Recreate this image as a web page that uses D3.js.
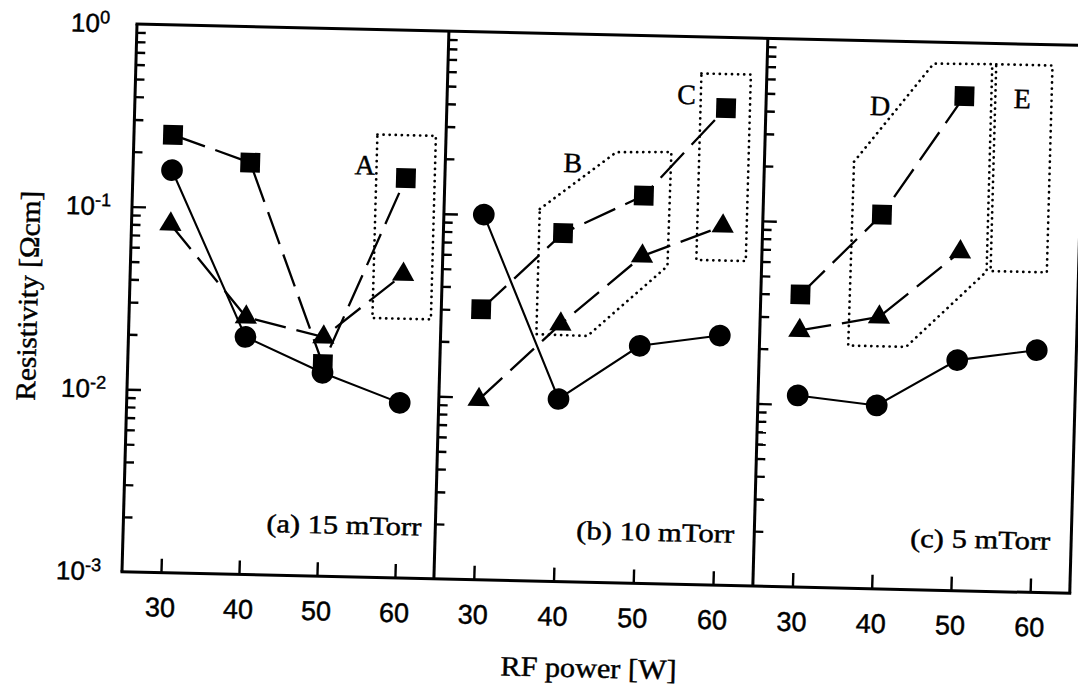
<!DOCTYPE html>
<html><head><meta charset="utf-8">
<script src="https://cdn.jsdelivr.net/npm/d3@7"></script>
<style>body{margin:0;background:#fff} text{stroke:#000;stroke-width:0.45px}</style>
</head><body>
<svg id="chart" width="1078" height="686"></svg>
<script>
// ---- data ----
const powers = [30, 40, 50, 60];
const xTickLabels = ["30", "40", "50", "60"];
const panelLabels = ["(a) 15 mTorr", "(b) 10 mTorr", "(c) 5 mTorr"];
const yTickValues = [1, 0.1, 0.01, 0.001];
const yTickExponents = ["0", "-1", "-2", "-3"];

// resistivity [Ohm cm] per panel, per RF power
const squareA   = [0.25, 0.18, 0.0145, 0.155];
const triangleA = [0.081, 0.0257, 0.0204, 0.046];
const circleA   = [0.16, 0.020, 0.013, 0.0091];

const squareB   = [0.0303, 0.081, 0.133, 0.41];
const triangleB = [0.0097, 0.0257, 0.062, 0.0925];
const circleB   = [0.10, 0.0100, 0.020, 0.0233];

const squareC   = [0.040, 0.112, 0.51, null];
const triangleC = [0.0254, 0.0308, 0.0716, null];
const circleC   = [0.0112, 0.0101, 0.0183, 0.0212];

// annotation regions (RF power, resistivity) per panel
const boxA = [[56.2, 0.266], [63.7, 0.266], [63.7, 0.0263], [56.2, 0.0263]];
const boxB = [[37.0, 0.109], [46.4, 0.228], [53.3, 0.232], [53.2, 0.0551], [43.4, 0.0223], [37.0, 0.0225]];
const boxC = [[56.8, 0.63], [63.0, 0.63], [63.0, 0.060], [56.8, 0.060]];
const boxD = [[36.3, 0.2165], [46.0, 0.762], [53.4, 0.77], [53.4, 0.0564], [43.5, 0.0213], [36.2, 0.0213]];
const boxE = [[53.9, 0.77], [61.0, 0.77], [61.0, 0.0567], [53.9, 0.0567]];
const boxLetters = [
  {panel: 0, text: "A", p: 54.7, r: 0.181},
  {panel: 1, text: "B", p: 41.0, r: 0.198},
  {panel: 1, text: "C", p: 55.0, r: 0.484},
  {panel: 2, text: "D", p: 39.4, r: 0.443},
  {panel: 2, text: "E", p: 57.3, r: 0.504}
];

// ---- layout ----
const W = 948, H = 548;
const panelRanges = [[0, 312], [312, 631], [631, 948]];
const seriesByPanel = [
  {square: squareA, triangle: triangleA, circle: circleA, boxes: [boxA]},
  {square: squareB, triangle: triangleB, circle: circleB, boxes: [boxB, boxC]},
  {square: squareC, triangle: triangleC, circle: circleC, boxes: [boxD, boxE]}
];
const panelLabelGap = [14, 20, 21];
const panelLabelLen = [155, 158, 140];

const svg = d3.select("#chart");
const a1 = 1.3 * Math.PI / 180, a2 = 1.57 * Math.PI / 180;
const g = svg.append("g")
  .attr("transform", `matrix(${Math.cos(a1)},${Math.sin(a1)},${-Math.sin(a2)},${Math.cos(a2)},137,24)`);

const y = d3.scaleLog().domain([1e-3, 1]).range([H, 0]);

const majors = [0.1, 0.01];
const minors = [];
[0.001, 0.01, 0.1].forEach(d => { for (let k = 2; k <= 9; k++) minors.push(d * k); });

const serif = "'Liberation Serif','Times New Roman',serif";
const sans = "'Liberation Sans',Arial,sans-serif";

const sqSym = d3.symbol(d3.symbolSquare, 390)();
const triSym = d3.symbol(d3.symbolTriangle, 215)();
const cirSym = d3.symbol(d3.symbolCircle, 370)();

panelRanges.forEach((rng, i) => {
  const x = d3.scaleLinear().domain([25, 65]).range(rng);
  const pg = g.append("g");
  const s = seriesByPanel[i];

  // y ticks on left boundary (pointing into panel)
  const axMaj = d3.axisRight(y).tickValues(majors).tickSize(14).tickFormat("");
  const axMin = d3.axisRight(y).tickValues(minors).tickSize(9).tickFormat("");
  [axMaj, axMin].forEach(ax => {
    const ag = pg.append("g").attr("transform", `translate(${rng[0]},0)`).call(ax);
    ag.select(".domain").remove();
    ag.selectAll("line").attr("stroke", "#000").attr("stroke-width", 2.4);
  });

  // x ticks pointing up from bottom
  const xa = pg.append("g").attr("transform", `translate(0,${H})`)
    .call(d3.axisTop(x).tickValues(powers).tickSize(14).tickFormat(""));
  xa.select(".domain").remove();
  xa.selectAll("line").attr("stroke", "#000").attr("stroke-width", 2.4);

  // x tick labels
  pg.selectAll("text.xt").data(powers).join("text")
    .attr("class", "xt")
    .attr("x", d => x(d)).attr("y", H + 44)
    .attr("text-anchor", "middle")
    .attr("font-family", sans).attr("font-size", 27)
    .text((d, j) => xTickLabels[j]);

  // dotted annotation boxes
  s.boxes.forEach(b => {
    pg.append("path")
      .attr("d", d3.line().x(d => x(d[0])).y(d => y(d[1])).curve(d3.curveLinearClosed)(b))
      .attr("fill", "none").attr("stroke", "#000").attr("stroke-width", 2.7)
      .attr("stroke-dasharray", "0.1,6").attr("stroke-linecap", "round");
  });

  const line = d3.line().defined(d => d[1] != null).x(d => x(d[0])).y(d => y(d[1]));
  const pts = arr => powers.map((p, j) => [p, arr[j]]);

  pg.append("path").attr("d", line(pts(s.square)))
    .attr("fill", "none").attr("stroke", "#000").attr("stroke-width", 2.3)
    .attr("stroke-dasharray", "34,11");
  pg.append("path").attr("d", line(pts(s.triangle)))
    .attr("fill", "none").attr("stroke", "#000").attr("stroke-width", 2.3)
    .attr("stroke-dasharray", "32,11");
  pg.append("path").attr("d", line(pts(s.circle)))
    .attr("fill", "none").attr("stroke", "#000").attr("stroke-width", 2.1);

  const drawMarks = (arr, sym) => {
    pg.selectAll(null).data(pts(arr).filter(d => d[1] != null)).join("path")
      .attr("d", sym).attr("fill", "#000")
      .attr("transform", d => `translate(${x(d[0])},${y(d[1])})`);
  };
  drawMarks(s.square, sqSym);
  drawMarks(s.triangle, triSym);
  drawMarks(s.circle, cirSym);

  // box letters
  boxLetters.filter(l => l.panel === i).forEach(l => {
    pg.append("text").attr("x", x(l.p)).attr("y", y(l.r)).attr("dy", "0.35em")
      .attr("text-anchor", "middle").attr("font-family", serif).attr("font-size", 28)
      .text(l.text);
  });

  // panel label
  pg.append("text")
    .attr("x", rng[1] - panelLabelGap[i] - panelLabelLen[i]).attr("y", 505)
    .attr("font-family", serif).attr("font-size", 26)
    .attr("textLength", panelLabelLen[i]).attr("lengthAdjust", "spacingAndGlyphs")
    .text(panelLabels[i]);
});

// frame
const frame = g.append("g").attr("stroke", "#000").attr("stroke-width", 3).attr("fill", "none");
frame.append("line").attr("x1", -1.5).attr("x2", W).attr("y1", 0).attr("y2", 0);
frame.append("line").attr("x1", -1.5).attr("x2", W + 1.5).attr("y1", H).attr("y2", H);
[0, 312, 631, W].forEach(u => {
  frame.append("line").attr("x1", u).attr("x2", u).attr("y1", 0).attr("y2", H);
});

// y tick labels
yTickValues.forEach((v, i) => {
  const t = g.append("text").attr("x", -66).attr("y", y(v) + 9)
    .attr("font-family", sans).attr("font-size", 26);
  t.append("tspan").text("10");
  t.append("tspan").attr("font-size", 18).attr("dy", -9).text(yTickExponents[i]);
});

// axis titles
g.append("text").attr("x", 469).attr("y", 643).attr("text-anchor", "middle")
  .attr("font-family", serif).attr("font-size", 28)
  .attr("textLength", 176).attr("lengthAdjust", "spacingAndGlyphs")
  .text("RF power [W]");
g.append("text").attr("transform", `translate(-92,${H / 2}) rotate(-90)`)
  .attr("text-anchor", "middle")
  .attr("font-family", serif).attr("font-size", 28)
  .attr("textLength", 210).attr("lengthAdjust", "spacingAndGlyphs")
  .text("Resistivity [Ωcm]");
</script>
</body></html>
